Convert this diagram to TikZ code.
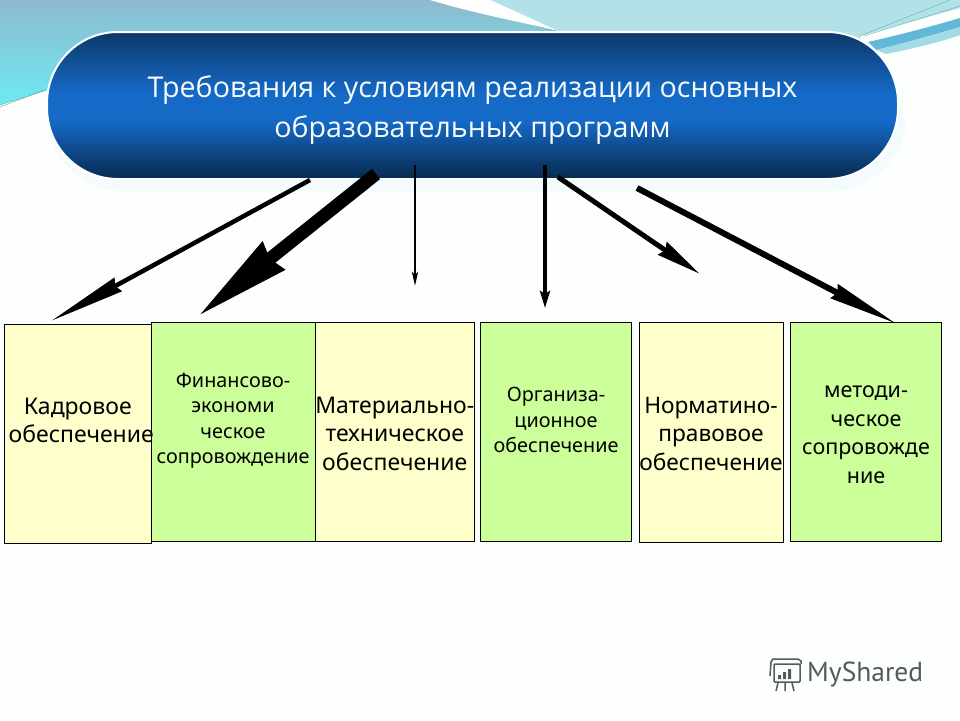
\documentclass[tikz,border=0pt]{standalone}
\usepackage{fontspec}
\setmainfont{Open Sans}
\newfontfamily\boxfont{Noto Sans}
\newfontfamily\logofont{PT Sans}
\usepackage{tikz}
\usetikzlibrary{arrows.meta, positioning, calc}
\definecolor{pilltop}{RGB}{13, 56, 104}
\definecolor{pillmid}{RGB}{21, 106, 200}
\definecolor{pillbot}{RGB}{8, 42, 78}
\definecolor{boxyellow}{RGB}{255, 255, 204}
\definecolor{boxgreen}{RGB}{204, 255, 153}
\definecolor{skytop}{RGB}{142, 186, 206}
\definecolor{skybot}{RGB}{108, 234, 242}
\definecolor{skyright}{RGB}{178, 226, 232}
\definecolor{skyband}{RGB}{98, 184, 216}
\definecolor{logogray}{RGB}{85, 90, 90}
\pgfdeclareverticalshading{pillshade}{100bp}{
  color(0bp)=(pillbot); color(25bp)=(pillbot); color(45bp)=(pillmid);
  color(54bp)=(pillmid); color(75bp)=(pilltop); color(100bp)=(pilltop)}

\begin{document}
\begin{tikzpicture}[
  x=1pt, y=-1pt,
  infobox/.style={rectangle, draw=black, line width=0.8pt, outer sep=0pt, anchor=north west,
                  align=center, inner sep=0pt, text=black},
  yellowbox/.style={infobox, fill=boxyellow},
  greenbox/.style={infobox, fill=boxgreen},
  bigtext/.style={font=\boxfont\fontsize{23}{28.5}\selectfont},
  smalltext/.style={font=\boxfont\fontsize{19.8}{25.5}\selectfont},
  arrow/.style 2 args={-{Stealth[length=#1, width=#2, inset=3pt]}, color=black},
]
  \useasboundingbox (0,0) rectangle (960,720);
  % backdrop
  \fill[white!98!skyright] (0,0) rectangle (960,720);
  \fill[top color=skytop, bottom color=skybot] (0,0) -- (440,0) -- (560,32) -- (560,60) -- (100,60)
    -- (47,90) -- (0,105) -- cycle;
  \fill[skyright] (490,0) -- (960,0) -- (960,8) -- (860,36) -- (860,60) -- (560,60) -- (560,32) -- cycle;
  \fill[white] (430,0) .. controls (470,12) and (510,20) .. (555,30) .. controls (530,18) .. (490,0) -- cycle;
  \fill[skyband] (868,42) .. controls (895,36) and (930,27) .. (960,18)
    -- (960,27) .. controls (930,36) and (905,43) .. (876,50) -- cycle;
  \fill[skyright!80!skyband] (876,50) .. controls (905,43) and (930,36) .. (960,27)
    -- (960,35) .. controls (935,44) and (905,50) .. (886,54) -- cycle;
  \draw[teal!60, line width=0.4pt] (860,36) -- (950,0);
  \draw[teal!60, line width=0.4pt] (864,36) -- (960,6);
  \draw[teal!60, line width=0.4pt] (0,107) -- (45,90);

  % main pill
  \fill[skyright!14!white, rounded corners=76pt] (47,60) rectangle (906,191);
  \node[rectangle, rounded corners=71pt, draw=white, line width=2pt, shading=pillshade, outer sep=0pt,
        minimum width=851pt, minimum height=147pt, anchor=north west, text height=70pt,
        align=center, text=white!90!skyright, font=\fontsize{28.6}{40}\selectfont] (title) at (47,32)
        {Требования к условиям реализации основных\\образовательных программ};

  % boxes
  \node[greenbox, minimum width=164pt, minimum height=219pt, smalltext, text depth=26pt] (finance) at (151,322)
    {Финансово-\\экономи\\ческое\\сопровождение};
  \node[yellowbox, minimum width=159.5pt, minimum height=219.5pt, bigtext, text height=77pt] (material) at (315,322)
    {Материально-\\техническое\\обеспечение};
  \node[yellowbox, minimum width=147.5pt, minimum height=219pt, bigtext, text depth=26pt] (staff) at (4,324)
    {Кадровое\\\makebox[130pt]{\hspace*{7pt}обеспечение}};
  \node[greenbox, minimum width=151pt, minimum height=219pt, smalltext, text depth=23pt] (org) at (480.5,322)
    {Организа-\\ционное\\обеспечение};
  \node[yellowbox, minimum width=144pt, minimum height=220pt, text height=77pt, font=\boxfont\fontsize{22.7}{28.5}\selectfont] (legal) at (639,322)
    {Норматино-\\правовое\\обеспечение};
  \node[greenbox, minimum width=151pt, minimum height=219pt, text height=104pt, font=\boxfont\fontsize{21.5}{28.7}\selectfont] (method) at (790.5,322)
    {методи-\\ческое\\сопровожде\\ние};

  % arrows
  \coordinate (a1) at (310,180); \coordinate (b1) at (51,321);
  \coordinate (a2) at (376,174); \coordinate (b2) at (197,317);
  \coordinate (a3) at (415,165); \coordinate (b3) at (415,286);
  \coordinate (a4) at (545,165); \coordinate (b4) at (545,308);
  \coordinate (a5) at (558,177); \coordinate (b5) at (700,274);
  \coordinate (a6) at (637,188); \coordinate (b6) at (897,324);
  \draw[arrow={76pt}{15pt}, line width=4.5pt] (a1) -- (b1);
  \draw[arrow={96pt}{33pt}, line width=13pt] (a2) -- (b2);
  \draw[arrow={14pt}{6pt}, line width=2.5pt] (a3) -- (b3);
  \draw[arrow={17pt}{10pt}, line width=4.5pt] (a4) -- (b4);
  \draw[arrow={45pt}{15pt}, line width=5pt] (a5) -- (b5);
  \draw[arrow={70pt}{15pt}, line width=6pt] (a6) -- (b6);

  % logo
  \node[text=logogray, font=\logofont\fontsize{27.5}{27.5}\selectfont, anchor=west, inner sep=0pt] (logo) at (807,675) {MyShared};
  \draw[logogray, line width=1.5pt, rounded corners=1pt] (774,664) rectangle (800,682);
  \draw[logogray, line width=1.5pt] (770,676) -- (771,662) -- (773,659) -- (798,659) -- (801,661) -- (801,664);
  \fill[logogray] (778,675) rectangle (781,679) (783,672) rectangle (786,679) (788,669) rectangle (791,679);
  \draw[logogray, line width=1.5pt] (778,683) -- (776,691) (785,683) -- (785,691) (792,683) -- (794,691);
\end{tikzpicture}
\end{document}
